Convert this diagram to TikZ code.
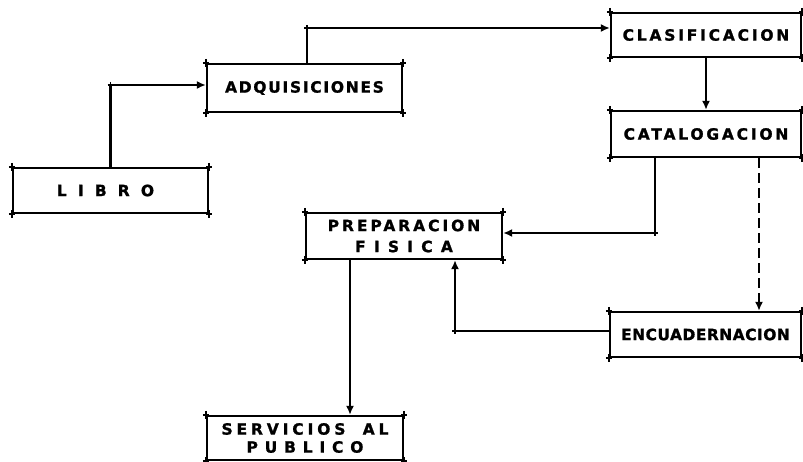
\documentclass[tikz,border=0pt]{standalone}
\usepackage{fontspec}
\setmainfont{DejaVu Sans}[BoldFeatures={FakeBold=1.2}]
\usetikzlibrary{arrows.meta,calc}
\newcommand\lsp[2]{{\addfontfeatures{LetterSpace=#1}#2}}
\tikzset{
  flowbox/.style={draw, line width=2.3pt, inner sep=0pt, align=center,
    font=\fontsize{15.5}{21}\selectfont\bfseries},
  conn/.style={line width=2.1pt, -{Latex[length=9pt,width=8pt]}},
  tickmark/.style={line width=1.8pt},
}
\begin{document}
\begin{tikzpicture}[x=1pt,y=-1pt]
\fill[white] (0,0) rectangle (803,462);
\useasboundingbox (0,0) rectangle (803,462);

\node[flowbox, minimum width=195, minimum height=45] (libro) at (110.5,190.5) {\lsp{72}{LIBRO}\hspace{10pt}};
\node[flowbox, minimum width=195, minimum height=48] (adq) at (304.5,88) {\lsp{11}{ADQUISICIONES}};
\node[flowbox, minimum width=190, minimum height=44] (clas) at (706,35) {\lsp{18}{CLASIFICACION}};
\node[flowbox, minimum width=190, minimum height=46] (cata) at (706,134) {\lsp{18}{CATALOGACION}};
\node[flowbox, minimum width=196, minimum height=46] (prep) at (404,236) {\lsp{19}{PREPARACION}\\\lsp{53}{FISICA}};
\node[flowbox, minimum width=191, minimum height=45] (enc) at (705.5,334.5) {\lsp{3}{ENCUADERNACION}};
\node[flowbox, minimum width=196, minimum height=44, font=\fontsize{15.5}{18}\selectfont\bfseries] (serv) at (305,438) {\lsp{25}{SERVICIOS\hspace{8pt} AL}\\\lsp{44}{PUBLICO}\hspace{8pt}};

% connectors
\coordinate (b1) at (libro.north |- 0,85);
\coordinate (b2) at ([xshift=2.5pt]adq.north |- 0,28);
\coordinate (b3) at ([xshift=-51pt]cata.south |- 0,233);
\coordinate (b4) at ([xshift=51pt]prep.south |- 0,331);

\draw[conn] (libro.north) -- (b1) -- (b1 -| adq.west);
\draw[conn] ([xshift=2.5pt]adq.north) -- (b2) -- (b2 -| clas.west);
\draw[conn] (clas.south) -- (cata.north);
\draw[conn] ([xshift=-51pt]cata.south) -- (b3) -- (b3 -| prep.east);
\draw[conn, dash pattern=on 10pt off 5pt] ([xshift=53pt]cata.south) -- ([xshift=53pt]cata.south |- enc.north);
\draw[conn] (b4 -| enc.west) -- (b4) -- ([xshift=51pt]prep.south);
\draw[conn] ([xshift=-54pt]prep.south) -- ([xshift=-54pt]prep.south |- serv.north);

% corner ticks
\foreach \n in {libro,adq,clas,cata,prep,enc,serv}{
  \foreach \a in {north west,north east,south west,south east}{
    \draw[tickmark] ($(\n.\a)+(-3,0)$) -- ($(\n.\a)+(3,0)$)
                    ($(\n.\a)+(0,-4)$) -- ($(\n.\a)+(0,4)$);
  }
}
\foreach \c in {b1,b2,b3,b4}{
  \draw[tickmark] ($(\c)+(-3,0)$) -- ($(\c)+(3,0)$)
                  ($(\c)+(0,-3)$) -- ($(\c)+(0,3)$);
}
\end{tikzpicture}
\end{document}
